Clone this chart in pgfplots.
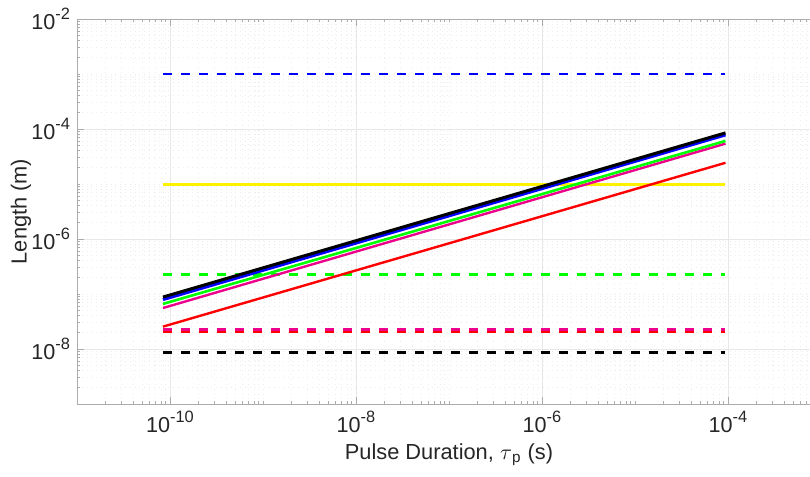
\documentclass[border=0pt]{standalone}
\usepackage{pgfplots}
\pgfplotsset{compat=1.18}
\usepackage{fontspec}
\setmainfont{Liberation Sans}
\definecolor{axgray}{gray}{0.15}

% minor tick lists (every 1..9 x 10^k)
\def\mxt{1e-3}
\foreach \e in {-11,...,-4}{\foreach \m in {1,...,9}{\xdef\mxt{\mxt,\m e\e}}}
\def\myt{1e-2}
\foreach \e in {-9,...,-3}{\foreach \m in {1,...,9}{\xdef\myt{\myt,\m e\e}}}
\newcommand\expo[1]{10\raisebox{0.48em}{\fontsize{8.2}{9}\selectfont #1}}

\begin{document}
\begin{tikzpicture}
\begin{axis}[
    width=372pt, height=192.5pt, scale only axis,
    xmode=log, ymode=log, log basis x=10, log basis y=10,
    xmin=1e-11, xmax=1e-3, ymin=1e-9, ymax=1e-2,
    xtick={1e-10,1e-8,1e-6,1e-4}, ytick={1e-8,1e-6,1e-4,1e-2},
    minor xtick/.expanded={\mxt}, minor ytick/.expanded={\myt},
    grid=both,
    major grid style={gray!18, line width=0.4pt},
    minor grid style={gray!14, dotted, line width=0.4pt},
    tick align=inside, major tick length=3.3pt, minor tick length=1.6pt,
    axis line style={gray!65, line width=0.4pt},
    every tick/.style={gray!65, line width=0.4pt},
    xticklabel={\pgfmathtruncatemacro\ex{round(\tick)}\expo{\ex}},
    yticklabel={\pgfmathtruncatemacro\ex{round(\tick)}\expo{\ex}},
    tick label style={font=\fontsize{10.8}{12}\selectfont, text=axgray},
    label style={font=\fontsize{10.9}{13}\selectfont, text=axgray},
    xlabel={Pulse Duration, $\tau$\textsubscript{p} (s)},
    ylabel={Length (m)},
    xlabel style={at={(axis description cs:0.5,0)}, anchor=center, yshift=-25.5pt},
    ylabel style={at={(axis description cs:0,0.5)}, anchor=center, yshift=28pt},
]
\coordinate (sw) at (rel axis cs:0,0);
\coordinate (ne) at (rel axis cs:1,1);

% horizontal reference lengths
\addplot[blue, line width=1.4pt, dash pattern=on 4.5pt off 4.5pt] coordinates {(8.4e-11,1e-3) (9.4e-5,1e-3)};
\addplot[yellow, line width=1.1pt] coordinates {(8.4e-11,9.8e-6) (9.4e-5,9.8e-6)};
\addplot[green, line width=1.4pt, dash pattern=on 4.5pt off 4.5pt] coordinates {(8.4e-11,2.29e-7) (9.4e-5,2.29e-7)};
\addplot[red, line width=1.4pt, dash pattern=on 4.5pt off 4.5pt] coordinates {(8.4e-11,2.07e-8) (9.4e-5,2.07e-8)};
\addplot[magenta, line width=1.4pt, dash pattern=on 4.5pt off 4.5pt] coordinates {(8.4e-11,2.25e-8) (9.4e-5,2.25e-8)};
\addplot[black, line width=1.4pt, dash pattern=on 4.5pt off 4.5pt] coordinates {(8.4e-11,8.5e-9) (9.4e-5,8.5e-9)};

% diffusion lengths
\addplot[red, line width=1.2pt] coordinates {(8.4e-11,2.55e-8) (9.4e-5,2.43e-5)};
\addplot[magenta, line width=1.2pt] coordinates {(8.4e-11,5.56e-8) (9.4e-5,5.42e-5)};
\addplot[green, line width=1.3pt] coordinates {(8.4e-11,6.6e-8) (9.4e-5,6.07e-5)};
\addplot[blue, line width=1.5pt] coordinates {(8.4e-11,7.9e-8) (9.4e-5,7.8e-5)};
\addplot[black, line width=1.5pt] coordinates {(8.4e-11,8.8e-8) (9.4e-5,8.5e-5)};
\end{axis}
\pgfresetboundingbox
\path[use as bounding box] ([xshift=-38.5pt,yshift=-36.5pt]sw) rectangle ([xshift=-5.5pt,yshift=9.5pt]ne);
\end{tikzpicture}
\end{document}
